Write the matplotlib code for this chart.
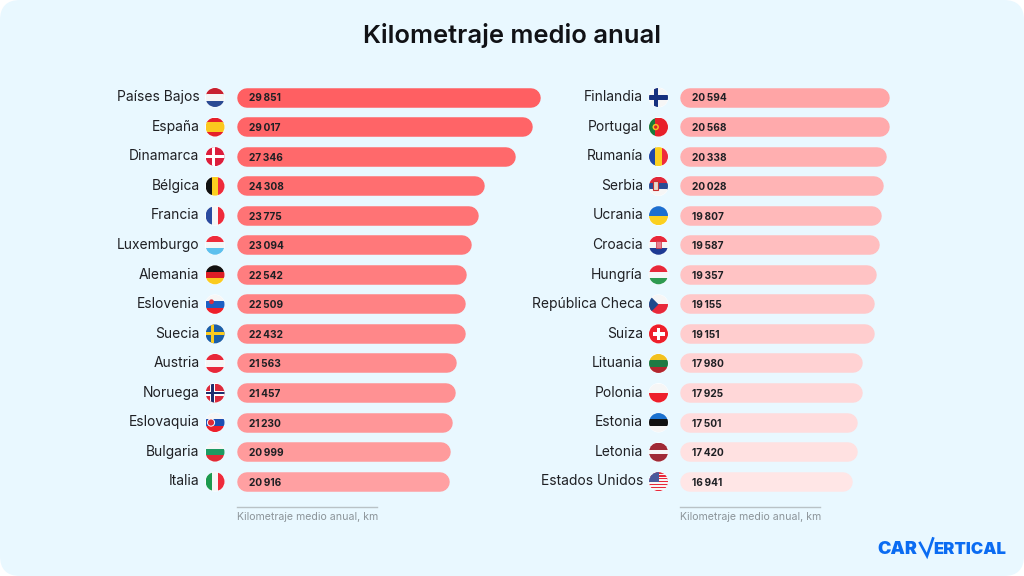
import numpy as np
import matplotlib
matplotlib.use('Agg')
import matplotlib.pyplot as plt
from matplotlib.patches import FancyBboxPatch, Circle, Rectangle, Polygon
from matplotlib.colors import LinearSegmentedColormap

plt.rcParams['font.family'] = ['Inter', 'DejaVu Sans']

countries_left = ['Países Bajos', 'España', 'Dinamarca', 'Bélgica', 'Francia', 'Luxemburgo', 'Alemania',
                  'Eslovenia', 'Suecia', 'Austria', 'Noruega', 'Eslovaquia', 'Bulgaria', 'Italia']
values_left = [29851, 29017, 27346, 24308, 23775, 23094, 22542, 22509, 22432, 21563, 21457, 21230, 20999, 20916]
countries_right = ['Finlandia', 'Portugal', 'Rumanía', 'Serbia', 'Ucrania', 'Croacia', 'Hungría',
                   'República Checa', 'Suiza', 'Lituania', 'Polonia', 'Estonia', 'Letonia', 'Estados Unidos']
values_right = [20594, 20568, 20338, 20028, 19807, 19587, 19357, 19155, 19151, 17980, 17925, 17501, 17420, 16941]

title = 'Kilometraje medio anual'
axis_caption = 'Kilometraje medio anual, km'

BG = '#E9F8FF'
TEXT = '#1F2024'
W, H = 1024, 576
PX_PER_KM = 0.010184
ROW0, ROW_STEP = 97.5, 29.55
BAR_H = 19.5
FLAG_R = 9.5

fig = plt.figure(figsize=(W / 100, H / 100), dpi=100, facecolor='white')
cmap = LinearSegmentedColormap.from_list('bars', ['#FF5F62', '#FFE6E6'])


# overlay in pixel coordinates for background, flags, logo
bg = fig.add_axes([0, 0, 1, 1], zorder=0)
bg.set_xlim(0, W)
bg.set_ylim(H, 0)
bg.axis('off')
bg.add_patch(FancyBboxPatch((0, 0), W, H, boxstyle='round,pad=0,rounding_size=20', fc=BG, ec='none'))

ov = fig.add_axes([0, 0, 1, 1], zorder=3)
ov.set_xlim(0, W)
ov.set_ylim(H, 0)
ov.axis('off')
ov.patch.set_alpha(0)


def hstripes(cx, cy, colors, clip):
    n = len(colors)
    for i, c in enumerate(colors):
        p = Rectangle((cx - FLAG_R, cy - FLAG_R + 2 * FLAG_R * i / n), 2 * FLAG_R, 2 * FLAG_R / n + 0.2, fc=c, ec='none')
        ov.add_patch(p)
        p.set_clip_path(clip)


def vstripes(cx, cy, colors, clip):
    n = len(colors)
    for i, c in enumerate(colors):
        p = Rectangle((cx - FLAG_R + 2 * FLAG_R * i / n, cy - FLAG_R), 2 * FLAG_R / n + 0.2, 2 * FLAG_R, fc=c, ec='none')
        ov.add_patch(p)
        p.set_clip_path(clip)


def cross(cx, cy, color, clip, dx=-2.5, w=3.2):
    for p in [Rectangle((cx + dx - w / 2, cy - FLAG_R), w, 2 * FLAG_R, fc=color, ec='none'),
              Rectangle((cx - FLAG_R, cy - w / 2), 2 * FLAG_R, w, fc=color, ec='none')]:
        ov.add_patch(p)
        p.set_clip_path(clip)


def shape(p, clip):
    ov.add_patch(p)
    p.set_clip_path(clip)


def flag(name, cx, cy):
    clip = Circle((cx, cy), FLAG_R, transform=ov.transData)
    ov.add_patch(Circle((cx, cy), FLAG_R + 0.4, fc='white', ec='none'))
    if name == 'Países Bajos':
        hstripes(cx, cy, ['#C8202F', '#F4F4F4', '#2A4B94'], clip)
    elif name == 'España':
        hstripes(cx, cy, ['#E5202A', '#FBC81E', '#FBC81E', '#E5202A'], clip)
    elif name == 'Dinamarca':
        hstripes(cx, cy, ['#DC1E3C'], clip)
        cross(cx, cy, 'white', clip, dx=-1.5, w=2.6)
    elif name == 'Bélgica':
        vstripes(cx, cy, ['#111111', '#FBD020', '#EE2B3B'], clip)
    elif name == 'Francia':
        vstripes(cx, cy, ['#2A4BA0', '#F6F6F6', '#EE2B3B'], clip)
    elif name == 'Luxemburgo':
        hstripes(cx, cy, ['#EE2B3B', '#F6F6F6', '#5CC0EE'], clip)
    elif name == 'Alemania':
        hstripes(cx, cy, ['#111111', '#DD1F26', '#FBCB1E'], clip)
    elif name == 'Eslovenia':
        hstripes(cx, cy, ['#F6F6F6', '#1C5FC4', '#EE1F2B'], clip)
        shape(Circle((cx - 3.5, cy - 2.6), 2.4, fc='#D83040', ec='none'), clip)
    elif name == 'Suecia':
        hstripes(cx, cy, ['#1B5FA8'], clip)
        cross(cx, cy, '#FBCB1E', clip)
    elif name == 'Austria':
        hstripes(cx, cy, ['#E8283A', '#F6F6F6', '#E8283A'], clip)
    elif name == 'Noruega':
        hstripes(cx, cy, ['#DC2A3C'], clip)
        cross(cx, cy, 'white', clip, w=5)
        cross(cx, cy, '#1E2E6E', clip, w=2.4)
    elif name == 'Eslovaquia':
        hstripes(cx, cy, ['#F6F6F6', '#1C50B4', '#EE1F2B'], clip)
        shape(Circle((cx - 4, cy), 3.6, fc='#E02A36', ec='white', lw=0.7), clip)
    elif name == 'Bulgaria':
        hstripes(cx, cy, ['#F6F6F6', '#1E9A62', '#E02A36'], clip)
    elif name == 'Italia':
        vstripes(cx, cy, ['#1C9A4E', '#F6F6F6', '#EE2B3B'], clip)
    elif name == 'Finlandia':
        hstripes(cx, cy, ['#F6F6F6'], clip)
        cross(cx, cy, '#17307E', clip, w=4.4)
    elif name == 'Portugal':
        vstripes(cx, cy, ['#1A7A3A', '#E8202A', '#E8202A'], clip)
        shape(Circle((cx - 2.8, cy), 3.2, fc='#F6C21E', ec='none'), clip)
        shape(Circle((cx - 2.8, cy), 1.7, fc='#D8202A', ec='none'), clip)
    elif name == 'Rumanía':
        vstripes(cx, cy, ['#1F48A8', '#FBD020', '#EE2B3B'], clip)
    elif name == 'Serbia':
        hstripes(cx, cy, ['#E0283A', '#2A4B94', '#F6F6F6'], clip)
        shape(Rectangle((cx - 6, cy - 5.5), 5, 9, fc='#E8D8C8', ec='#C83030', lw=0.8), clip)
    elif name == 'Ucrania':
        hstripes(cx, cy, ['#1C6FD0', '#FBD020'], clip)
    elif name == 'Croacia':
        hstripes(cx, cy, ['#E8283A', '#F6F6F6', '#1E3A94'], clip)
        shape(Rectangle((cx - 2.8, cy - 4), 5.6, 6.5, fc='#E88090', ec='#D03040', lw=0.5), clip)
    elif name == 'Hungría':
        hstripes(cx, cy, ['#E8283A', '#F6F6F6', '#2E9A50'], clip)
    elif name == 'República Checa':
        hstripes(cx, cy, ['#F6F6F6', '#E8283A'], clip)
        shape(Polygon([(cx - FLAG_R, cy - FLAG_R), (cx, cy), (cx - FLAG_R, cy + FLAG_R)], fc='#1E4A8C', ec='none'), clip)
    elif name == 'Suiza':
        hstripes(cx, cy, ['#EE1F2B'], clip)
        shape(Rectangle((cx - 6, cy - 1.9), 12, 3.8, fc='white', ec='none'), clip)
        shape(Rectangle((cx - 1.9, cy - 6), 3.8, 12, fc='white', ec='none'), clip)
    elif name == 'Lituania':
        hstripes(cx, cy, ['#F2C11E', '#1E7A44', '#B3262E'], clip)
    elif name == 'Polonia':
        hstripes(cx, cy, ['#F6F6F6', '#EE1F2B'], clip)
    elif name == 'Estonia':
        hstripes(cx, cy, ['#1C72D0', '#111111', '#F6F6F6'], clip)
    elif name == 'Letonia':
        hstripes(cx, cy, ['#A02A36', '#A02A36', '#F6F6F6', '#A02A36', '#A02A36'], clip)
    elif name == 'Estados Unidos':
        hstripes(cx, cy, ['#E8283A', '#F6F6F6'] * 6 + ['#E8283A'], clip)
        shape(Rectangle((cx - FLAG_R, cy - FLAG_R), FLAG_R * 1.05, FLAG_R * 1.02, fc='#4A5A9C', ec='none'), clip)


def panel(x0, flag_x, names, values, rank0):
    # bars live in a real km axis, round caps make the pills
    km_max = 31000
    top, bottom = ROW0 - 15, ROW0 + 13 * ROW_STEP + 15
    ax = fig.add_axes([x0 / W, 1 - bottom / H, km_max * PX_PER_KM / W, (bottom - top) / H], zorder=2)
    ax.set_xlim(0, km_max)
    ax.set_ylim((bottom - ROW0) / ROW_STEP, (top - ROW0) / ROW_STEP)
    ax.axis('off')
    ax.patch.set_alpha(0)
    cap_km = BAR_H / 2 / PX_PER_KM
    for i, (name, v) in enumerate(zip(names, values)):
        c = cmap((rank0 + i) / 27)
        ax.plot([cap_km, v - cap_km], [i, i], color=c, lw=BAR_H * 0.72, solid_capstyle='round')
        ax.annotate(f'{v:,}'.replace(',', '\u2009'), (0, i), xytext=(8.6, -0.7), textcoords='offset points',
                    ha='left', va='center', fontsize=7.3, fontweight='bold', color=TEXT)
        ax.annotate(name, (0, i), xytext=(-(x0 - flag_x + 15.5) * 0.72, 0.2), textcoords='offset points',
                    ha='right', va='center', fontsize=9.95, color=TEXT, annotation_clip=False)
        flag(name, flag_x, ROW0 + i * ROW_STEP)
    ov.plot([x0, x0 + 140], [506.5, 506.5], color='#B9C2C6', lw=1)
    ov.text(x0, 516.5, axis_caption, ha='left', va='center', fontsize=7.6, color='#8C9499')


panel(237, 215, countries_left, values_left, 0)
panel(680, 658.5, countries_right, values_right, 14)

ov.text(512, 35.2, title, ha='center', va='center', fontsize=18.4, fontweight='semibold', color='#111216')

# logo
LOGO = '#0B6CF2'
ov.text(877, 550, 'CAR', ha='left', va='center', fontsize=13, fontweight='black', color=LOGO)
ov.text(933, 550, 'ERTICAL', ha='left', va='center', fontsize=12, fontweight='black', color=LOGO)
ov.plot([920, 927, 933], [543, 556, 538.5], color=LOGO, lw=1.9, solid_joinstyle='miter')

fig.savefig('out.png', dpi=100)
